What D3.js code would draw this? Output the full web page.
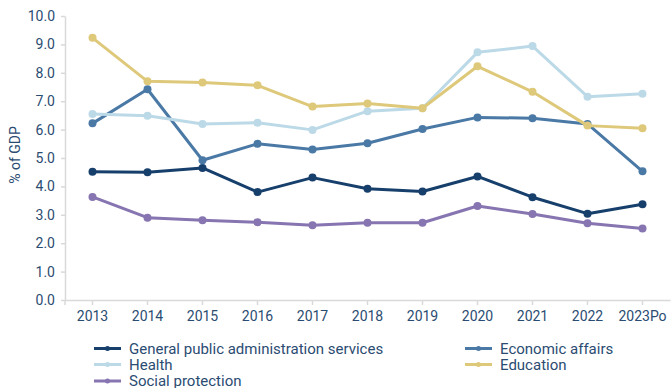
<!DOCTYPE html>
<html><head><meta charset="utf-8">
<script src="https://cdn.jsdelivr.net/npm/d3@7"></script>
<style>body{margin:0;background:#fff}svg{display:block;font-family:Roboto,sans-serif}</style>
</head><body><svg id="c" width="671" height="388"></svg>
<script>
const years = ["2013","2014","2015","2016","2017","2018","2019","2020","2021","2022","2023Po"];
const genAdmin = [4.52,4.50,4.65,3.80,4.31,3.92,3.82,4.35,3.62,3.04,3.37];
const econAffairs = [6.22,7.42,4.92,5.50,5.30,5.52,6.02,6.43,6.40,6.20,4.53];
const health = [6.55,6.49,6.20,6.24,5.99,6.65,6.75,8.72,8.94,7.16,7.26];
const education = [9.23,7.70,7.66,7.56,6.81,6.92,6.75,8.23,7.33,6.14,6.05];
const social = [3.63,2.90,2.81,2.74,2.63,2.72,2.72,3.31,3.03,2.70,2.52];
const yTicks = [0,1,2,3,4,5,6,7,8,9,10];
const seriesNames = ["General public administration services","Economic affairs","Health","Education","Social protection"];
const seriesColors = ["#173f6c","#4a79a6","#bcd9e7","#dec87a","#8675b0"];
const seriesData = [genAdmin, econAffairs, health, education, social];

const svg = d3.select("#c");
const textColor = "#2b4c72";
const x = d3.scaleBand().domain(years).range([65,670]);
const y = d3.scaleLinear().domain([0,10]).range([300,16]);
const cx = d => x(d) + x.bandwidth()/2;

// axes
const yAxis = svg.append("g").attr("transform","translate(65,0)")
  .call(d3.axisLeft(y).tickValues(yTicks).tickFormat(d3.format(".1f")).tickSize(4).tickSizeOuter(0));
const xAxis = svg.append("g").attr("transform","translate(0,300)")
  .call(d3.axisBottom(x).tickSize(5).tickSizeOuter(0));
[yAxis,xAxis].forEach(a=>{
  a.select(".domain").attr("stroke","#d9d9d9").attr("stroke-width",1.5);
  a.selectAll(".tick line").attr("stroke","#d9d9d9").attr("stroke-width",1.5);
  a.selectAll("text").attr("fill",textColor).style("font-size","14px").style("font-family","Roboto, sans-serif");
});
yAxis.selectAll("text").attr("x",-10);
xAxis.selectAll("text").attr("y",11);
xAxis.append("line").attr("x1",65).attr("x2",65).attr("y1",0).attr("y2",5).attr("stroke","#d9d9d9").attr("stroke-width",1.5);

svg.append("text").attr("transform","translate(20,155) rotate(-90)")
  .attr("text-anchor","middle").attr("fill",textColor).style("font-size","14px").text("% of GDP");

const line = d3.line().x((d,i)=>cx(years[i])).y(d=>y(d));
seriesData.forEach((vals,k)=>{
  const g = svg.append("g");
  g.append("path").datum(vals).attr("d",line).attr("fill","none")
    .attr("stroke",seriesColors[k]).attr("stroke-width",3).attr("stroke-linejoin","round");
  g.selectAll("circle").data(vals).join("circle")
    .attr("cx",(d,i)=>cx(years[i])).attr("cy",d=>y(d)).attr("r",4).attr("fill",seriesColors[k]);
});

// legend
const legPos = [[94,348.5],[465,348.5],[94,364.5],[465,364.5],[94,381]];
seriesNames.forEach((n,k)=>{
  const [lx,ly] = legPos[k];
  const g = svg.append("g").attr("transform",`translate(${lx},${ly})`);
  g.append("line").attr("x1",0).attr("x2",27).attr("stroke",seriesColors[k]).attr("stroke-width",3);
  g.append("circle").attr("cx",13.5).attr("r",2.5).attr("fill",seriesColors[k]);
  g.append("text").attr("x",35).attr("dy","0.35em").attr("fill",textColor).style("font-size","15px").text(n);
});
</script></body></html>
